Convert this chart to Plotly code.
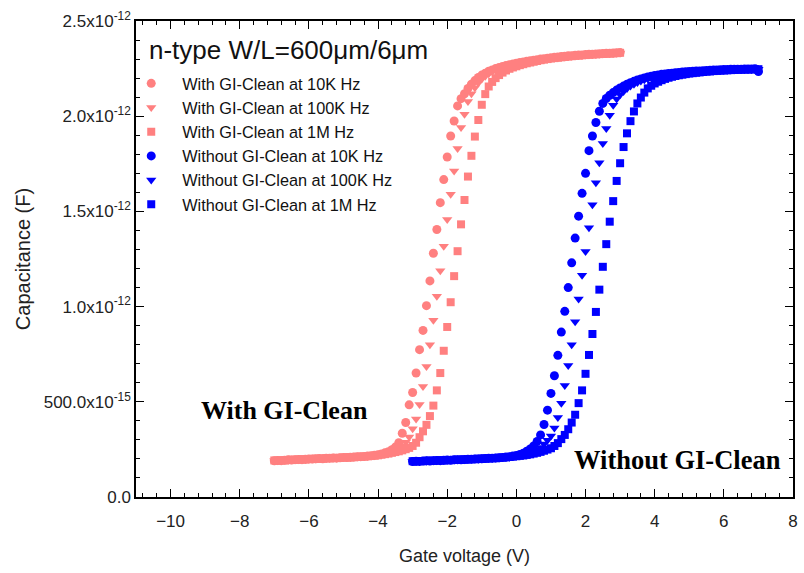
import numpy as np
import plotly.graph_objects as go

# Gate-voltage sweeps (0.1 V steps)
v_with = np.round(np.arange(-7.0, 3.0001, 0.1), 1)
v_without = np.round(np.arange(-3.0, 7.0001, 0.1), 1)

# Capacitance in pF, with GI-Clean
c_with_10k = [
    0.190, 0.192, 0.191, 0.193, 0.195, 0.194, 0.196, 0.197, 0.196, 0.198,
    0.200, 0.199, 0.201, 0.202, 0.201, 0.203, 0.204, 0.205, 0.204, 0.206,
    0.208, 0.207, 0.209, 0.210, 0.211, 0.212, 0.213, 0.215, 0.217, 0.219,
    0.222, 0.226, 0.232, 0.238, 0.248, 0.262, 0.285, 0.335, 0.391, 0.484,
    0.549, 0.651, 0.774, 0.875, 1.005, 1.135, 1.280, 1.405, 1.546, 1.667,
    1.786, 1.896, 1.975, 2.054, 2.092, 2.118, 2.146, 2.168, 2.187, 2.203,
    2.216, 2.226, 2.236, 2.243, 2.250, 2.256, 2.261, 2.266, 2.270, 2.274,
    2.278, 2.282, 2.285, 2.288, 2.291, 2.294, 2.297, 2.300, 2.302, 2.305,
    2.307, 2.309, 2.311, 2.313, 2.315, 2.317, 2.318, 2.320, 2.321, 2.322,
    2.324, 2.325, 2.326, 2.327, 2.328, 2.329, 2.330, 2.331, 2.332, 2.333,
    2.334,
]
c_with_100k = [
    0.191, 0.190, 0.192, 0.194, 0.193, 0.195, 0.197, 0.196, 0.198, 0.197,
    0.199, 0.201, 0.200, 0.202, 0.203, 0.202, 0.204, 0.206, 0.205, 0.207,
    0.207, 0.209, 0.208, 0.210, 0.212, 0.211, 0.213, 0.214, 0.216, 0.218,
    0.220, 0.224, 0.228, 0.232, 0.237, 0.243, 0.252, 0.266, 0.287, 0.315,
    0.358, 0.410, 0.486, 0.580, 0.686, 0.800, 0.928, 1.055, 1.188, 1.317,
    1.458, 1.590, 1.712, 1.830, 1.940, 2.010, 2.077, 2.118, 2.150, 2.175,
    2.195, 2.210, 2.223, 2.233, 2.242, 2.250, 2.256, 2.262, 2.267, 2.271,
    2.275, 2.279, 2.283, 2.286, 2.289, 2.292, 2.295, 2.298, 2.300, 2.303,
    2.305, 2.307, 2.309, 2.311, 2.313, 2.315, 2.317, 2.318, 2.320, 2.321,
    2.323, 2.324, 2.325, 2.326, 2.327, 2.328, 2.329, 2.330, 2.331, 2.332,
    2.332,
]
c_with_1m = [
    0.192, 0.191, 0.193, 0.192, 0.194, 0.196, 0.195, 0.197, 0.198, 0.197,
    0.199, 0.200, 0.201, 0.200, 0.202, 0.204, 0.203, 0.205, 0.206, 0.205,
    0.207, 0.208, 0.208, 0.209, 0.211, 0.212, 0.212, 0.214, 0.215, 0.217,
    0.219, 0.222, 0.225, 0.228, 0.232, 0.236, 0.240, 0.245, 0.251, 0.258,
    0.268, 0.285, 0.314, 0.345, 0.379, 0.425, 0.480, 0.560, 0.651, 0.768,
    0.893, 1.023, 1.160, 1.291, 1.432, 1.560, 1.683, 1.792, 1.893, 1.980,
    2.060, 2.116, 2.156, 2.180, 2.200, 2.216, 2.229, 2.240, 2.249, 2.256,
    2.262, 2.268, 2.273, 2.278, 2.282, 2.286, 2.290, 2.294, 2.297, 2.300,
    2.303, 2.305, 2.307, 2.309, 2.311, 2.313, 2.315, 2.317, 2.318, 2.320,
    2.321, 2.323, 2.324, 2.325, 2.326, 2.327, 2.328, 2.329, 2.330, 2.331,
    2.333,
]

# Capacitance in pF, without GI-Clean
c_without_10k = [
    0.186, 0.188, 0.187, 0.189, 0.190, 0.189, 0.191, 0.192, 0.191, 0.193,
    0.194, 0.193, 0.195, 0.196, 0.195, 0.197, 0.198, 0.198, 0.199, 0.200,
    0.201, 0.202, 0.203, 0.204, 0.205, 0.206, 0.208, 0.210, 0.212, 0.215,
    0.218, 0.223, 0.230, 0.240, 0.252, 0.268, 0.292, 0.326, 0.381, 0.456,
    0.544, 0.637, 0.744, 0.866, 0.975, 1.100, 1.230, 1.360, 1.475, 1.595,
    1.700, 1.819, 1.896, 1.967, 2.026, 2.067, 2.093, 2.110, 2.124, 2.137,
    2.148, 2.158, 2.168, 2.176, 2.183, 2.190, 2.196, 2.201, 2.206, 2.210,
    2.214, 2.217, 2.220, 2.222, 2.224, 2.226, 2.228, 2.230, 2.232, 2.233,
    2.235, 2.236, 2.237, 2.238, 2.239, 2.240, 2.241, 2.242, 2.243, 2.244,
    2.245, 2.245, 2.246, 2.246, 2.247, 2.247, 2.248, 2.248, 2.248, 2.249,
    2.235,
]
c_without_100k = [
    0.187, 0.186, 0.188, 0.190, 0.189, 0.190, 0.192, 0.191, 0.193, 0.192,
    0.194, 0.195, 0.194, 0.196, 0.197, 0.196, 0.198, 0.199, 0.199, 0.200,
    0.201, 0.202, 0.203, 0.203, 0.205, 0.206, 0.207, 0.209, 0.211, 0.213,
    0.216, 0.219, 0.222, 0.226, 0.231, 0.238, 0.247, 0.260, 0.278, 0.298,
    0.321, 0.362, 0.417, 0.493, 0.586, 0.690, 0.800, 0.920, 1.040, 1.165,
    1.290, 1.414, 1.535, 1.650, 1.756, 1.856, 1.935, 2.005, 2.058, 2.090,
    2.113, 2.130, 2.145, 2.158, 2.168, 2.177, 2.185, 2.192, 2.198, 2.203,
    2.208, 2.212, 2.216, 2.219, 2.221, 2.224, 2.226, 2.228, 2.230, 2.231,
    2.233, 2.234, 2.235, 2.236, 2.237, 2.238, 2.239, 2.240, 2.241, 2.242,
    2.243, 2.243, 2.244, 2.244, 2.245, 2.245, 2.246, 2.246, 2.247, 2.247,
    2.247,
]
c_without_1m = [
    0.188, 0.187, 0.189, 0.188, 0.190, 0.191, 0.190, 0.192, 0.193, 0.192,
    0.194, 0.194, 0.195, 0.196, 0.196, 0.197, 0.198, 0.199, 0.199, 0.201,
    0.201, 0.202, 0.203, 0.204, 0.204, 0.206, 0.207, 0.208, 0.210, 0.212,
    0.214, 0.216, 0.218, 0.221, 0.224, 0.228, 0.232, 0.237, 0.243, 0.249,
    0.256, 0.268, 0.283, 0.304, 0.326, 0.356, 0.391, 0.432, 0.493, 0.560,
    0.647, 0.746, 0.856, 0.972, 1.089, 1.209, 1.328, 1.446, 1.554, 1.660,
    1.753, 1.838, 1.910, 1.974, 2.025, 2.067, 2.098, 2.124, 2.146, 2.160,
    2.172, 2.181, 2.189, 2.196, 2.202, 2.207, 2.211, 2.215, 2.218, 2.221,
    2.224, 2.226, 2.228, 2.230, 2.232, 2.234, 2.235, 2.237, 2.238, 2.239,
    2.240, 2.241, 2.242, 2.243, 2.244, 2.244, 2.245, 2.245, 2.246, 2.246,
    2.247,
]

series_names = [
    "With GI-Clean at 10K Hz",
    "With GI-Clean at 100K Hz",
    "With GI-Clean at 1M Hz",
    "Without GI-Clean at 10K Hz",
    "Without GI-Clean at 100K Hz",
    "Without GI-Clean at 1M Hz",
]

y_tickvals = [0.0, 0.5e-12, 1.0e-12, 1.5e-12, 2.0e-12, 2.5e-12]
y_ticktext = [
    "0.0",
    "500.0x10<sup>-15</sup>",
    "1.0x10<sup>-12</sup>",
    "1.5x10<sup>-12</sup>",
    "2.0x10<sup>-12</sup>",
    "2.5x10<sup>-12</sup>",
]
x_tickvals = [-10, -8, -6, -4, -2, 0, 2, 4, 6, 8]

PINK = "#FF8080"
BLUE = "#0000FF"
PF = 1e-12

traces = [
    (v_with, c_with_10k, PINK, "circle", 9),
    (v_with, c_with_100k, PINK, "triangle-down", 9),
    (v_with, c_with_1m, PINK, "square", 8),
    (v_without, c_without_10k, BLUE, "circle", 9),
    (v_without, c_without_100k, BLUE, "triangle-down", 9),
    (v_without, c_without_1m, BLUE, "square", 8),
]

fig = go.Figure()
for i, (vx, cy, color, symbol, size) in enumerate(traces):
    fig.add_trace(go.Scatter(
        x=vx,
        y=np.array(cy) * PF,
        mode="markers",
        name=series_names[i],
        legendgroup=f"g{i}",
        marker=dict(color=color, symbol=symbol, size=size, line=dict(width=0)),
    ))

SANS = "Arial, Liberation Sans, sans-serif"
SERIF = "Liberation Serif, Times New Roman, serif"
tick_font = dict(family=SANS, size=17, color="#222")

fig.update_layout(
    width=804,
    height=573,
    margin=dict(l=136, r=6, t=21, b=76),
    paper_bgcolor="white",
    plot_bgcolor="white",
    font=tick_font,
    showlegend=True,
    legend=dict(
        x=-0.024, y=0.905, xanchor="left", yanchor="top",
        bgcolor="rgba(0,0,0,0)",
        font=dict(family=SANS, size=16.3, color="#111"),
        tracegroupgap=0,
        itemwidth=52,
    ),
    xaxis=dict(
        range=[-11, 8],
        tickvals=x_tickvals,
        ticks="inside", ticklen=8, tickwidth=1.2, tickcolor="black",
        minor=dict(dtick=0.4, tick0=0, ticks="inside", ticklen=4, tickwidth=1.2, tickcolor="black"),
        showline=True, linecolor="black", linewidth=1.5, mirror="ticks",
        showgrid=False, zeroline=False,
        ticklabelstandoff=8,
        title=dict(text="Gate voltage (V)", font=dict(family=SANS, size=18, color="#222"), standoff=19),
        tickfont=tick_font,
    ),
    yaxis=dict(
        range=[0, 2.5e-12],
        tickvals=y_tickvals,
        ticktext=y_ticktext,
        ticks="inside", ticklen=8, tickwidth=1.2, tickcolor="black",
        minor=dict(dtick=0.1e-12, tick0=0, ticks="inside", ticklen=4, tickwidth=1.2, tickcolor="black"),
        showline=True, linecolor="black", linewidth=1.5, mirror="ticks",
        showgrid=False, zeroline=False,
        title=dict(text="Capacitance (F)", font=dict(family=SANS, size=20, color="#222"), standoff=8),
        tickfont=tick_font,
    ),
    annotations=[
        dict(
            text="n-type W/L=600\u03bcm/6\u03bcm",
            xref="paper", yref="paper", x=0.017, y=0.939,
            xanchor="left", yanchor="middle", showarrow=False,
            font=dict(family=SANS, size=26, color="#111"),
        ),
        dict(
            text="<b>With GI-Clean</b>",
            xref="x", yref="y", x=-6.72, y=0.453e-12,
            xanchor="center", yanchor="middle", showarrow=False,
            font=dict(family=SERIF, size=26, color="black"),
        ),
        dict(
            text="<b>Without GI-Clean</b>",
            xref="x", yref="y", x=4.66, y=0.195e-12,
            xanchor="center", yanchor="middle", showarrow=False,
            font=dict(family=SERIF, size=26.5, color="black"),
        ),
    ],
)

fig.write_html("out.html")
